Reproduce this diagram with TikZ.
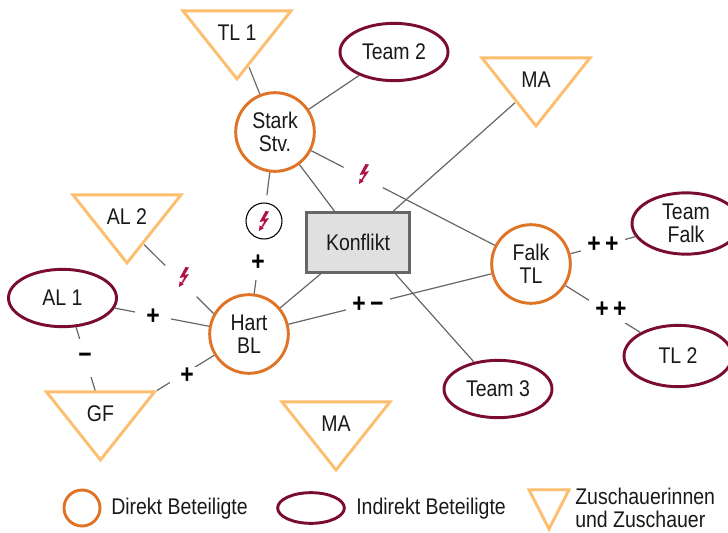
\documentclass[tikz,border=0pt]{standalone}
\usepackage{fontspec}
\setmainfont[FakeStretch=0.86]{Liberation Sans}
\usetikzlibrary{shapes.geometric}
\definecolor{direkt}{HTML}{DF7427}
\definecolor{indirekt}{HTML}{7A0C33}
\definecolor{zuschauer}{HTML}{FDBF6F}
\definecolor{blitzrot}{HTML}{B0124C}
\definecolor{linie}{HTML}{666666}
\definecolor{boxgrau}{HTML}{E0E0E0}
\tikzset{
	txt/.style={font=\fontsize{17}{17.5}\selectfont,align=center,text=black!90},
	direktkreis/.style={circle,draw=direkt,line width=2.2pt,fill=white,minimum size=59pt,inner sep=0pt,txt},
	indirektoval/.style={ellipse,draw=indirekt,line width=2.2pt,fill=white,minimum width=81pt,minimum height=43pt,inner sep=0pt,txt},
	dreieck/.style={isosceles triangle,isosceles triangle stretches,shape border rotate=270,draw=zuschauer,line width=2.2pt,fill=white,minimum width=81pt,minimum height=51pt,inner sep=0pt},
	konfliktbox/.style={rectangle,draw=linie,line width=2.2pt,fill=boxgrau,minimum width=77pt,minimum height=45pt,txt},
	verbindung/.style={draw=linie,line width=0.9pt},
	luecke/.style={fill=white,inner sep=0pt},
	zeichen/.style={luecke,font=\fontsize{20}{20}\bfseries\selectfont,text=black},
	dreitext/.style={txt,yshift=3pt},
	blitz/.pic={\fill[blitzrot] (1.5,-10) -- (-4.5,1) -- (0.5,0) -- (-2.5,5.5) -- (-4.5,4.5) -- (-5,10) -- (0,7) -- (-1.5,6.5) -- (5,-3) -- (0.5,-2) -- (5,-9.5) -- cycle;}
}
\begin{document}
\begin{tikzpicture}[x=0.75pt,y=-0.75pt]
	\useasboundingbox (0,0) rectangle (728,532);
	\node[direktkreis] (stark) at (275,132) {Stark\\Stv.};
	\node[direktkreis] (hart) at (249,334) {Hart\\BL};
	\node[direktkreis] (falk) at (531,264) {Falk\\TL};
	\node[konfliktbox] (konflikt) at (358,242.5) {Konflikt};
	\node[indirektoval] (team2) at (394,52) {Team 2};
	\node[indirektoval] (al1) at (62.5,298) {AL 1};
	\node[indirektoval] (team3) at (498,389) {Team 3};
	\node[indirektoval,minimum height=46pt] (teamfalk) at (686,223.5) {Team\\Falk};
	\node[indirektoval,minimum height=46pt] (tl2) at (678,356) {TL 2};
	\node[dreieck,label={[dreitext]center:TL 1}] (tl1) at (237,37) {};
	\node[dreieck,label={[dreitext]center:MA}] (ma) at (536,84) {};
	\node[dreieck,label={[dreitext]center:AL 2}] (al2) at (127,221) {};
	\node[dreieck,label={[dreitext]center:GF}] (gf) at (100.5,418) {};
	\node[dreieck,label={[dreitext]center:MA}] (ma2) at (336,428) {};
	\draw[verbindung] (tl1) -- (stark);
	\draw[verbindung] (stark) -- (team2);
	\draw[verbindung] (stark) -- (konflikt);
	\draw[verbindung] (ma) -- (konflikt);
	\draw[verbindung] (hart) -- (konflikt);
	\draw[verbindung] (konflikt.-40) -- (team3);
	\draw[verbindung] (stark) -- (falk);
	\draw[verbindung] (stark) -- (hart);
	\draw[verbindung] (hart) -- (falk);
	\draw[verbindung] (al2.-54) -- (hart.150);
	\draw[verbindung] (al1) -- (hart);
	\draw[verbindung] (al1.-65) -- (gf.101);
	\draw[verbindung] (gf.26) -- (hart);
	\draw[verbindung] (falk) -- (teamfalk);
	\draw[verbindung] (falk) -- (tl2);
	% Zeichen auf den Linien
	\node[luecke,circle,minimum size=33pt] (blitz1) at (364,176) {};
	\pic at (364,174) {blitz};
	\node[luecke,circle,minimum size=33pt] (blitz2) at (181,281) {};
	\pic at (184,277) {blitz};
	\node[luecke,circle,minimum size=39pt] (blitz3) at (264,221) {};
	\node[circle,draw=black,line width=0.8pt,fill=white,minimum size=27pt,inner sep=0pt] (blitzkreis) at (264,221) {};
	\pic at (blitzkreis) {blitz};
	\node[zeichen,minimum width=20pt,minimum height=25pt] (plus1) at (258,263) {+};
	\node[zeichen,minimum width=27pt] (plus2) at (153,317) {+};
	\node[zeichen,minimum width=15pt,minimum height=28pt] (minus1) at (85,358) {\textminus};
	\node[zeichen,minimum width=26pt,minimum height=14pt] (plus3) at (187,376) {+};
	\node[zeichen,minimum width=33pt] (plusminus) at (368,305) {+\,\textminus};
	\node[zeichen,minimum width=33pt] (plusplus1) at (603,245) {+\,+};
	\node[zeichen,minimum width=33pt,minimum height=20pt] (plusplus2) at (611,310) {+\,+};
	% Legende
	\node[direktkreis,minimum size=27pt] (legdirekt) at (82,508) {};
	\node[txt,anchor=west,inner sep=0pt] (txtdirekt) at (111,509) {Direkt Beteiligte};
	\node[indirektoval,minimum width=50pt,minimum height=23pt] (legindirekt) at (311,508) {};
	\node[txt,anchor=west,inner sep=0pt] (txtindirekt) at (356,509) {Indirekt Beteiligte};
	\node[dreieck,minimum width=30pt,minimum height=29.5pt] (legzuschauer) at (549,502) {};
	\node[txt,anchor=west,inner sep=0pt,align=left] (txtzuschauer) at (575,508) {Zuschauerinnen\\und Zuschauer};
\end{tikzpicture}
\end{document}
